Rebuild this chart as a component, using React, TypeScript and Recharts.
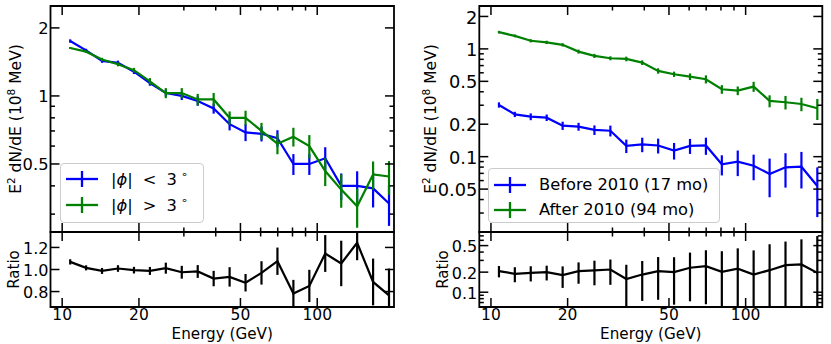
import React from "react";
import { ErrorBar, Legend, Line, LineChart, ReferenceArea, XAxis, YAxis } from "recharts";

const FONT = '"DejaVu Sans", Verdana, sans-serif';
const BLUE = "#0000ff";
const GREEN = "#008000";

// energy bin centres (GeV), shared by all four panels
const energies = [
  10.75, 12.41, 14.33, 16.55, 19.12, 22.08, 25.49, 29.44, 34.0, 39.26, 45.34,
  52.36, 60.47, 69.83, 80.64, 93.12, 107.5, 124.2, 143.4, 165.6, 191.2,
];

// left panel: |phi| < 3 deg vs |phi| > 3 deg
const innerFlux = [1.75, 1.59, 1.43, 1.4, 1.28, 1.14, 1.03, 1.0, 0.95, 0.88, 0.75, 0.69, 0.68, 0.65, 0.5, 0.5, 0.53, 0.4, 0.4, 0.39, 0.334];
const innerErr = [0.03, 0.027, 0.029, 0.033, 0.03, 0.031, 0.035, 0.041, 0.045, 0.045, 0.046, 0.059, 0.051, 0.055, 0.053, 0.053, 0.063, 0.054, 0.064, 0.069, 0.068];
const outerFlux = [1.63, 1.57, 1.45, 1.38, 1.3, 1.16, 1.03, 1.03, 0.965, 0.965, 0.8, 0.8, 0.7, 0.615, 0.66, 0.6, 0.465, 0.385, 0.325, 0.449, 0.44];
const outerErr = [0.017, 0.021, 0.025, 0.028, 0.031, 0.039, 0.053, 0.053, 0.056, 0.066, 0.054, 0.06, 0.06, 0.063, 0.063, 0.071, 0.066, 0.065, 0.064, 0.064, 0.075];
const phiRatio = [1.069, 1.015, 0.987, 1.009, 0.994, 0.987, 1.012, 0.975, 0.982, 0.918, 0.933, 0.88, 0.969, 1.075, 0.782, 0.851, 1.145, 1.055, 1.242, 0.887, 0.766];
const phiRatioErr = [0.024, 0.023, 0.027, 0.03, 0.03, 0.036, 0.05, 0.058, 0.058, 0.07, 0.088, 0.079, 0.106, 0.124, 0.124, 0.146, 0.167, 0.206, 0.158, 0.212, 0.243];

// right panel: before / after 2010
const beforeFlux = [0.302, 0.247, 0.235, 0.23, 0.194, 0.19, 0.177, 0.174, 0.126, 0.13, 0.127, 0.114, 0.126, 0.127, 0.085, 0.09, 0.0824, 0.069, 0.0796, 0.0807, 0.0535];
const beforeErr = [0.017, 0.014, 0.017, 0.016, 0.017, 0.016, 0.018, 0.02, 0.018, 0.02, 0.02, 0.02, 0.02, 0.023, 0.018, 0.024, 0.022, 0.027, 0.028, 0.03, 0.026];
const afterFlux = [1.43, 1.32, 1.19, 1.15, 1.09, 0.944, 0.861, 0.819, 0.807, 0.746, 0.625, 0.582, 0.553, 0.523, 0.422, 0.41, 0.447, 0.329, 0.32, 0.308, 0.281];
const afterErr = [0.04, 0.038, 0.042, 0.041, 0.039, 0.04, 0.037, 0.035, 0.04, 0.037, 0.036, 0.033, 0.039, 0.045, 0.039, 0.038, 0.048, 0.042, 0.046, 0.044, 0.062];
const epochRatio = [0.207, 0.189, 0.195, 0.2, 0.18, 0.207, 0.212, 0.219, 0.158, 0.184, 0.207, 0.2, 0.233, 0.246, 0.202, 0.225, 0.184, 0.214, 0.255, 0.261, 0.195];
const epochRatioErr = [0.04, 0.048, 0.05, 0.05, 0.064, 0.073, 0.085, 0.09, 0.1, 0.11, 0.13, 0.135, 0.16, 0.18, 0.21, 0.23, 0.24, 0.31, 0.32, 0.36, 0.5];

// axes
const X_DOMAIN: [number, number] = [9, 200];
const xMajor = [10, 20, 50, 100];
const xMinor = [30, 40, 60, 70, 80, 90];

const phiFluxMajor = [0.5, 1, 2];
const phiFluxMinor = [0.3, 0.4, 0.6, 0.7, 0.8, 0.9];
const epochFluxMajor = [0.05, 0.1, 0.2, 0.5, 1, 2];
const epochFluxMinor = [0.03, 0.04, 0.06, 0.07, 0.08, 0.09, 0.3, 0.4, 0.6, 0.7, 0.8, 0.9];
const phiRatioMajor = [0.8, 1.0, 1.2];
const epochRatioMajor = [0.1, 0.2, 0.5];
const epochRatioMinor = [0.06, 0.07, 0.08, 0.09, 0.3, 0.4, 0.6, 0.7];

const H = 344;
const MAJOR_LEN = 9;
const MINOR_LEN = 4.5;
const TICK_W = 1.5;
const X_TICK_FONT = 15.5;

type Series = { key: string; name: string; color: string; values: number[]; errors: number[] };

type PanelProps = {
  left: number;
  width: number;
  plotLeft: number;
  plotRight: number;
  plotTop: number;
  plotBottom: number;
  yScale: "log" | "linear";
  yDomain: [number, number];
  yMajor: number[];
  yMinor: number[];
  yFmt: (v: number) => string;
  yTickFont: number;
  series: Series[];
  ratio: boolean;
  yLabel: () => React.ReactElement;
  legend?: { left: number; top: number; width: number; height: number; padTop: number; rowH: number };
};

// error bars stop at the frame, like matplotlib clipping
function buildRows(series: Series[], [lo, hi]: [number, number]) {
  return energies.map((e, i) => {
    const row: Record<string, number | number[]> = { e };
    series.forEach((s) => {
      const v = s.values[i];
      const err = s.errors[i];
      row[s.key] = v;
      row[s.key + "Err"] = [Math.min(err, v - lo), Math.min(err, hi - v)];
    });
    return row;
  });
}

function xTick(top: number, ratio: boolean) {
  return (props: any) => {
    const { x, y, payload } = props;
    const major = xMajor.includes(payload.value);
    const len = major ? MAJOR_LEN : MINOR_LEN;
    return (
      <g>
        {(major || !ratio) && <line x1={x} x2={x} y1={y} y2={y - len} stroke="#000" strokeWidth={TICK_W} />}
        <line x1={x} x2={x} y1={top} y2={top + len} stroke="#000" strokeWidth={TICK_W} />
        {ratio && major && (
          <text x={x} y={y + 13} textAnchor="middle" fontSize={X_TICK_FONT} fontFamily={FONT} fill="#000">
            {payload.value}
          </text>
        )}
      </g>
    );
  };
}

function yTick(right: number, major: number[], fmt: (v: number) => string, size: number) {
  return (props: any) => {
    const { x, y, payload } = props;
    const isMajor = major.includes(payload.value);
    const len = isMajor ? MAJOR_LEN : MINOR_LEN;
    return (
      <g>
        <line x1={x} x2={x + len} y1={y} y2={y} stroke="#000" strokeWidth={TICK_W} />
        <line x1={right} x2={right - len} y1={y} y2={y} stroke="#000" strokeWidth={TICK_W} />
        {isMajor && (
          <text x={x - 2} y={y} dy="0.4em" textAnchor="end" fontSize={size} fontFamily={FONT} fill="#000">
            {fmt(payload.value)}
          </text>
        )}
      </g>
    );
  };
}

function legendName(name: string) {
  const m = name.match(/^\|ϕ\| ([<>]) 3°$/);
  if (!m) return name;
  return (
    <>
      |<i>ϕ</i>|<span style={{ margin: "0 10px" }}>{m[1]}</span>3
      <span style={{ fontSize: 11, position: "relative", top: -7, marginLeft: 4 }}>∘</span>
    </>
  );
}

function legendContent(box: NonNullable<PanelProps["legend"]>) {
  return (props: any) => (
    <div
      style={{
        width: box.width,
        height: box.height,
        boxSizing: "border-box",
        border: "1px solid #cccccc",
        borderRadius: 4,
        background: "rgba(255,255,255,0.8)",
        paddingTop: box.padTop,
        paddingLeft: 5,
        fontFamily: FONT,
        fontSize: 16.3,
        color: "#000",
      }}
    >
      {(props.payload || []).map((item: any) => (
        <div key={item.value} style={{ display: "flex", alignItems: "center", height: box.rowH, whiteSpace: "nowrap" }}>
          <svg width={32} height={20} style={{ marginRight: 13, flex: "none" }}>
            <line x1={0} x2={32} y1={10} y2={10} stroke={item.color} strokeWidth={2.3} />
            <line x1={16} x2={16} y1={2} y2={18} stroke={item.color} strokeWidth={2.3} />
          </svg>
          <span>{legendName(item.value)}</span>
        </div>
      ))}
    </div>
  );
}

const fluxLabel = (x: number) => () => (
  <text transform={`translate(${x},119) rotate(-90)`} textAnchor="middle" fontSize={15.5} fontFamily={FONT} fill="#000">
    E<tspan dy={-6} fontSize={10.5}>2</tspan>
    <tspan dy={6}>{" dN/dE (10"}</tspan>
    <tspan dy={-6} fontSize={10.5}>8</tspan>
    <tspan dy={6}>{" MeV)"}</tspan>
  </text>
);

const ratioLabel = (x: number) => () => (
  <text transform={`translate(${x},269.5) rotate(-90)`} textAnchor="middle" fontSize={15} fontFamily={FONT} fill="#000">
    Ratio
  </text>
);

function Panel(p: PanelProps) {
  const rows = buildRows(p.series, p.yDomain);
  const order = p.series.map((s) => s.name);
  const xLabel = () => (
    <text x={(p.plotLeft + p.plotRight) / 2} y={338.5} textAnchor="middle" fontSize={15.2} fontFamily={FONT} fill="#000">
      Energy (GeV)
    </text>
  );
  // axes are 1px thick so recharts still draws them; margins compensate
  return (
    <div style={{ position: "absolute", left: p.left, top: 0, width: p.width, height: H }}>
      <LineChart
        width={p.width}
        height={H}
        data={rows}
        margin={{ top: p.plotTop, bottom: H - p.plotBottom - 1, left: p.plotLeft - 1, right: p.width - p.plotRight }}
      >
        <XAxis
          dataKey="e"
          type="number"
          scale="log"
          domain={X_DOMAIN}
          allowDataOverflow
          ticks={[...xMajor, ...xMinor]}
          interval={0}
          height={1}
          tickSize={0}
          tickMargin={0}
          axisLine={false}
          tickLine={false}
          tick={xTick(p.plotTop, p.ratio)}
          label={p.ratio ? xLabel : undefined}
        />
        <YAxis
          type="number"
          scale={p.yScale}
          domain={p.yDomain}
          allowDataOverflow
          ticks={[...p.yMajor, ...p.yMinor]}
          interval={0}
          width={1}
          tickSize={0}
          tickMargin={0}
          axisLine={false}
          tickLine={false}
          tick={yTick(p.plotRight, p.yMajor, p.yFmt, p.yTickFont)}
          label={p.yLabel}
        />
        {p.series.map((s) => (
          <Line
            key={s.key}
            dataKey={s.key}
            name={s.name}
            type="linear"
            stroke={s.color}
            strokeWidth={2.2}
            dot={false}
            isAnimationActive={false}
          >
            <ErrorBar dataKey={s.key + "Err"} width={0} stroke={s.color} strokeWidth={2.2} direction="y" />
          </Line>
        ))}
        <ReferenceArea
          x1={X_DOMAIN[0]}
          x2={X_DOMAIN[1]}
          y1={p.yDomain[0]}
          y2={p.yDomain[1]}
          fill="none"
          stroke="#000"
          strokeWidth={1.8}
          ifOverflow="visible"
        />
        {p.legend && (
          <Legend
            layout="horizontal"
            verticalAlign="middle"
            align="center"
            itemSorter={(item: any) => order.indexOf(item.value)}
            wrapperStyle={{ left: p.legend.left, top: p.legend.top, width: p.legend.width, height: p.legend.height }}
            content={legendContent(p.legend)}
          />
        )}
      </LineChart>
    </div>
  );
}

const LEFT_GEOM = { left: 0, width: 415, plotLeft: 50.5, plotRight: 394 };
const RIGHT_GEOM = { left: 415, width: 416, plotLeft: 64.3, plotRight: 407.3 };
const MAIN_Y = { plotTop: 6, plotBottom: 232 };
const RATIO_Y = { plotTop: 232, plotBottom: 307 };

export default function App() {
  return (
    <div style={{ position: "absolute", left: 0, top: 0, width: 831, height: H, background: "#fff" }}>
      <Panel
        {...LEFT_GEOM}
        {...MAIN_Y}
        yScale="log"
        yDomain={[0.25, 2.5]}
        yMajor={phiFluxMajor}
        yMinor={phiFluxMinor}
        yFmt={(v) => String(v)}
        yTickFont={16.3}
        ratio={false}
        yLabel={fluxLabel(20.5)}
        legend={{ left: 60, top: 163, width: 144, height: 60, padTop: 2.5, rowH: 25.7 }}
        series={[
          { key: "inner", name: "|ϕ| < 3°", color: BLUE, values: innerFlux, errors: innerErr },
          { key: "outer", name: "|ϕ| > 3°", color: GREEN, values: outerFlux, errors: outerErr },
        ]}
      />
      <Panel
        {...LEFT_GEOM}
        {...RATIO_Y}
        yScale="linear"
        yDomain={[0.66, 1.34]}
        yMajor={phiRatioMajor}
        yMinor={[]}
        yFmt={(v) => v.toFixed(1)}
        yTickFont={16}
        ratio
        yLabel={ratioLabel(19.3)}
        series={[{ key: "r", name: "ratio", color: "#000", values: phiRatio, errors: phiRatioErr }]}
      />
      <Panel
        {...RIGHT_GEOM}
        {...MAIN_Y}
        yScale="log"
        yDomain={[0.02, 2.5]}
        yMajor={epochFluxMajor}
        yMinor={epochFluxMinor}
        yFmt={(v) => String(v)}
        yTickFont={17.8}
        ratio={false}
        yLabel={fluxLabel(20.5)}
        legend={{ left: 73, top: 168, width: 232, height: 55, padTop: 3, rowH: 25 }}
        series={[
          { key: "before", name: "Before 2010 (17 mo)", color: BLUE, values: beforeFlux, errors: beforeErr },
          { key: "after", name: "After 2010 (94 mo)", color: GREEN, values: afterFlux, errors: afterErr },
        ]}
      />
      <Panel
        {...RIGHT_GEOM}
        {...RATIO_Y}
        yScale="log"
        yDomain={[0.06, 0.8]}
        yMajor={epochRatioMajor}
        yMinor={epochRatioMinor}
        yFmt={(v) => String(v)}
        yTickFont={16}
        ratio
        yLabel={ratioLabel(33.3)}
        series={[{ key: "r", name: "ratio", color: "#000", values: epochRatio, errors: epochRatioErr }]}
      />
    </div>
  );
}
